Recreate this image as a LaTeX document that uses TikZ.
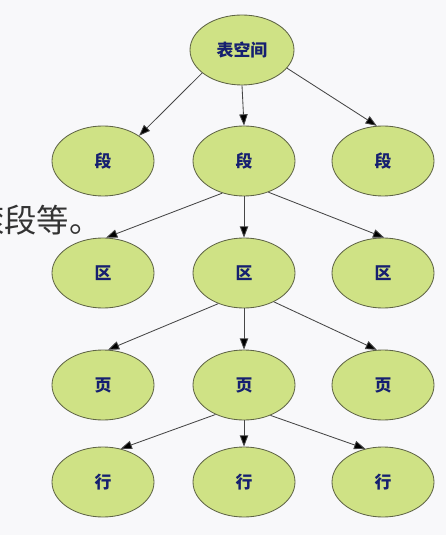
\documentclass[tikz,border=0pt]{standalone}
\usepackage{fontspec}
\newfontfamily\cjk{Noto Sans CJK SC}
\definecolor{nodefill}{RGB}{207, 226, 133}
\definecolor{nodeline}{RGB}{95, 100, 70}
\definecolor{labelblue}{RGB}{22, 32, 112}
\definecolor{arrowgray}{RGB}{70, 70, 70}
\definecolor{pagebg}{RGB}{248, 248, 250}
\usetikzlibrary{shapes.geometric, arrows.meta, positioning}
\tikzset{
  unit/.style={ellipse, draw=nodeline, fill=nodefill, line width=0.6pt,
    minimum width=2.55cm, minimum height=1.75cm, inner sep=0pt,
    font=\cjk\bfseries\fontsize{12}{14}\selectfont, text=labelblue},
  link/.style={draw=arrowgray, line width=0.6pt,
    -{Triangle[length=8pt, width=6pt, fill=black]}}
}

\begin{document}
\begin{tikzpicture}
  \fill[pagebg] (0,0) rectangle (11.15,-13.375);
  \useasboundingbox (0,0) rectangle (11.15,-13.375);
  \clip (0,0) rectangle (11.15,-13.375);

  % text left over from the slide
  \node[anchor=west, inner sep=0pt, font=\cjk\fontsize{23}{26}\selectfont, text=black!80] (slidetext) at (-0.7,-5.5) {滚段等。};

  % tablespace
  \node[unit, minimum width=2.6cm] (ts) at (6.05,-1.25) {表空间};

  % segments
  \node[unit] (segL) at (2.575,-4.025) {段};
  \node[unit] (segM) at (6.1,-4.025) {段};
  \node[unit] (segR) at (9.575,-4.025) {段};

  % extents
  \node[unit] (extL) at (2.575,-6.825) {区};
  \node[unit] (extM) at (6.1,-6.825) {区};
  \node[unit] (extR) at (9.575,-6.825) {区};

  % pages
  \node[unit] (pgL) at (2.575,-9.625) {页};
  \node[unit] (pgM) at (6.1,-9.625) {页};
  \node[unit] (pgR) at (9.575,-9.625) {页};

  % rows
  \node[unit] (rowL) at (2.575,-12.05) {行};
  \node[unit] (rowM) at (6.1,-12.05) {行};
  \node[unit] (rowR) at (9.575,-12.05) {行};

  % arrows
  \draw[link] (ts.210) -- (segL.35);
  \draw[link] (ts.south) -- (segM.north);
  \draw[link] (ts.-22) -- (segR.100);

  \draw[link] (segM.236) -- (extL.85);
  \draw[link] (segM.south) -- (extM.north);
  \draw[link] (segM.-52) -- (extR.88);

  \draw[link] (extM.230) -- (pgL.82);
  \draw[link] (extM.south) -- (pgM.north);
  \draw[link] (extM.-44) -- (pgR.100);

  \draw[link] (pgM.226) -- (rowL.62);
  \draw[link] (pgM.south) -- (rowM.north);
  \draw[link] (pgM.-49) -- (rowR.118);
\end{tikzpicture}
\end{document}
